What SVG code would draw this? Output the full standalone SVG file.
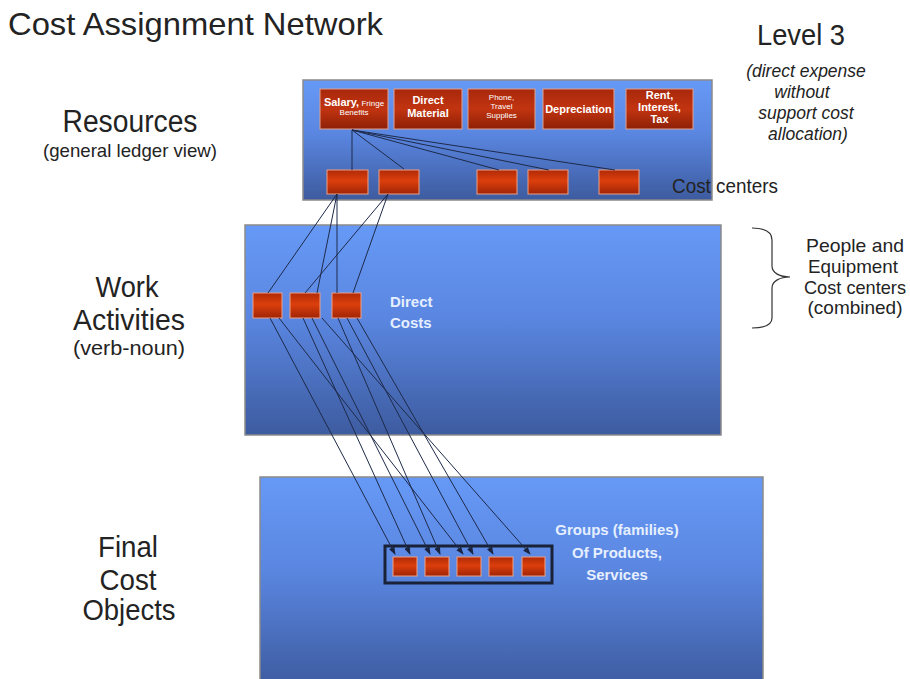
<svg xmlns="http://www.w3.org/2000/svg" width="910" height="679" viewBox="0 0 910 679">
<defs>
  <linearGradient id="panelGrad" x1="0" y1="0" x2="0" y2="1">
    <stop offset="0" stop-color="#6699f6"/>
    <stop offset="0.45" stop-color="#5a86e0"/>
    <stop offset="1" stop-color="#3d5b9f"/>
  </linearGradient>
  <linearGradient id="redGrad" x1="0" y1="0" x2="0" y2="1">
    <stop offset="0" stop-color="#b02a08"/>
    <stop offset="0.45" stop-color="#dc3f0c"/>
    <stop offset="1" stop-color="#a02406"/>
  </linearGradient>
  <linearGradient id="labelGrad" x1="0" y1="0" x2="0" y2="1">
    <stop offset="0" stop-color="#a8280c"/>
    <stop offset="0.5" stop-color="#c23410"/>
    <stop offset="1" stop-color="#8e2006"/>
  </linearGradient>
  <marker id="arrow" markerWidth="8" markerHeight="6" refX="7" refY="3" orient="auto" markerUnits="userSpaceOnUse">
    <path d="M0,0 L8,3 L0,6 Z" fill="#1b2540"/>
  </marker>
</defs>
<style>
  .panel { fill: url(#panelGrad); stroke: #8a8a8a; stroke-width: 1.5; }
  .box { fill: url(#redGrad); stroke: #eea084; stroke-width: 1; }
  .lbox { fill: url(#labelGrad); stroke: #e2a08c; stroke-width: 1; }
  .lt { font-family: "Liberation Sans", Arial, sans-serif; fill: #ffffff; text-anchor: middle; }
  .b { font-weight: bold; font-size: 11px; }
  .s { font-size: 8px; }
  .dark { font-family: "Liberation Sans", Arial, sans-serif; fill: #232323; }
  .mid { text-anchor: middle; }
  .inner { font-family: "Liberation Sans", Arial, sans-serif; font-weight: bold; font-size: 15px; fill: #e6efff; }
  .conn { stroke: #1e2a4a; stroke-width: 1; fill: none; }
  .carr { stroke: #1e2a4a; stroke-width: 1; fill: none; marker-end: url(#arrow); }
</style>

<rect width="910" height="679" fill="#ffffff"/>

<g id="labels">
  <text class="dark" x="8" y="35" font-size="32" textLength="375" lengthAdjust="spacingAndGlyphs">Cost Assignment Network</text>
  <text class="dark mid" x="130" y="132" font-size="31" textLength="135" lengthAdjust="spacingAndGlyphs">Resources</text>
  <text class="dark mid" x="130" y="157" font-size="19" textLength="174" lengthAdjust="spacingAndGlyphs">(general ledger view)</text>
  <text class="dark mid" x="127" y="297" font-size="30" textLength="63" lengthAdjust="spacingAndGlyphs">Work</text>
  <text class="dark mid" x="129" y="330" font-size="30" textLength="112" lengthAdjust="spacingAndGlyphs">Activities</text>
  <text class="dark mid" x="129" y="355" font-size="21" textLength="112" lengthAdjust="spacingAndGlyphs">(verb-noun)</text>
  <text class="dark mid" x="128" y="557" font-size="30" textLength="60" lengthAdjust="spacingAndGlyphs">Final</text>
  <text class="dark mid" x="128" y="590" font-size="30" textLength="57" lengthAdjust="spacingAndGlyphs">Cost</text>
  <text class="dark mid" x="129" y="620" font-size="30" textLength="93" lengthAdjust="spacingAndGlyphs">Objects</text>
  <text class="dark mid" x="801" y="45" font-size="29" textLength="88" lengthAdjust="spacingAndGlyphs">Level 3</text>
  <g font-style="italic" font-size="17.5">
    <text class="dark mid" x="806" y="77">(direct expense</text>
    <text class="dark mid" x="802" y="98">without</text>
    <text class="dark mid" x="806" y="119">support cost</text>
    <text class="dark mid" x="808" y="140">allocation)</text>
  </g>
  <path d="M752,228 C764,228 772,231 772,240 L772,266 C772,273 780,277 790,277 C780,277 772,281 772,288 L772,318 C772,325 764,328 752,328" fill="none" stroke="#333" stroke-width="1.2"/>
  <text class="dark mid" x="855" y="252" font-size="19" textLength="98" lengthAdjust="spacingAndGlyphs">People and</text>
  <text class="dark mid" x="853" y="273" font-size="19" textLength="90" lengthAdjust="spacingAndGlyphs">Equipment</text>
  <text class="dark mid" x="855" y="294" font-size="19" textLength="102" lengthAdjust="spacingAndGlyphs">Cost centers</text>
  <text class="dark mid" x="855" y="314" font-size="19" textLength="95" lengthAdjust="spacingAndGlyphs">(combined)</text>
</g>

<g id="resources-panel">
  <rect class="panel" x="303" y="80" width="409" height="120"/>
  <text class="dark" x="672" y="193" font-size="21" textLength="106" lengthAdjust="spacingAndGlyphs">Cost centers</text>
</g>
<g id="res-salary">
  <rect class="lbox" x="320" y="89" width="68" height="40"/>
  <text class="lt" x="354" y="106"><tspan class="b" font-size="10">Salary,</tspan><tspan class="s"> Fringe</tspan></text>
  <text class="lt s" x="354" y="115">Benefits</text>
</g>
<g id="res-material">
  <rect class="lbox" x="394" y="89" width="68" height="40"/>
  <text class="lt b" x="428" y="104">Direct</text>
  <text class="lt b" x="428" y="117">Material</text>
</g>
<g id="res-phone">
  <rect class="lbox" x="468" y="89" width="67" height="40"/>
  <text class="lt s" x="501.5" y="100">Phone,</text>
  <text class="lt s" x="501.5" y="109">Travel</text>
  <text class="lt s" x="501.5" y="118">Supplies</text>
</g>
<g id="res-depreciation">
  <rect class="lbox" x="543" y="89" width="71" height="40"/>
  <text class="lt b" x="578.5" y="113">Depreciation</text>
</g>
<g id="res-rent">
  <rect class="lbox" x="626" y="89" width="67" height="40"/>
  <text class="lt b" x="659.5" y="99">Rent,</text>
  <text class="lt b" x="659.5" y="111">Interest,</text>
  <text class="lt b" x="659.5" y="123">Tax</text>
</g>
<g id="cost-centers">
  <rect id="cc1" class="box" x="327" y="170" width="41" height="24"/>
  <rect id="cc2" class="box" x="379" y="170" width="40" height="24"/>
  <rect id="cc3" class="box" x="477" y="170" width="40" height="24"/>
  <rect id="cc4" class="box" x="528" y="170" width="40" height="24"/>
  <rect id="cc5" class="box" x="599" y="170" width="40" height="24"/>
</g>

<g id="work-panel">
  <rect class="panel" x="245" y="225" width="476" height="210"/>
  <text class="inner" x="390" y="307">Direct</text>
  <text class="inner" x="390" y="328">Costs</text>
</g>
<g id="activities">
  <rect id="actA" class="box" x="253" y="293" width="29" height="25"/>
  <rect id="actB" class="box" x="290" y="293" width="30" height="25"/>
  <rect id="actC" class="box" x="332" y="293" width="29" height="25"/>
</g>

<g id="final-panel">
  <rect class="panel" x="260" y="477" width="503" height="210"/>
  <text class="inner mid" x="617" y="535" text-anchor="middle" font-size="14.5">Groups (families)</text>
  <text class="inner mid" x="617" y="558" text-anchor="middle" font-size="14.5">Of Products,</text>
  <text class="inner mid" x="617" y="580" text-anchor="middle" font-size="14.5">Services</text>
</g>
<g id="products">
  <rect x="385" y="546" width="167" height="37" fill="none" stroke="#1a2238" stroke-width="3"/>
  <rect id="p1" class="box" x="393" y="557" width="24" height="19"/>
  <rect id="p2" class="box" x="425" y="557" width="24" height="19"/>
  <rect id="p3" class="box" x="457" y="557" width="24" height="19"/>
  <rect id="p4" class="box" x="489" y="557" width="24" height="19"/>
  <rect id="p5" class="box" x="522" y="557" width="23" height="19"/>
</g>

<g id="connectors">
  <line class="conn" x1="352" y1="130" x2="352" y2="170"/>
  <line class="conn" x1="352" y1="130" x2="404" y2="169"/>
  <line class="conn" x1="352" y1="130" x2="499" y2="170"/>
  <line class="conn" x1="352" y1="130" x2="549" y2="170"/>
  <line class="conn" x1="352" y1="130" x2="615" y2="170"/>

  <line class="conn" x1="337" y1="194" x2="268" y2="293"/>
  <line class="conn" x1="337" y1="194" x2="317" y2="293"/>
  <line class="conn" x1="337" y1="194" x2="337" y2="293"/>
  <line class="conn" x1="388" y1="194" x2="305" y2="293"/>
  <line class="conn" x1="388" y1="194" x2="353" y2="293"/>

  <line class="carr" x1="270" y1="318" x2="395" y2="554"/>
  <line class="carr" x1="279" y1="318" x2="463" y2="554"/>
  <line class="carr" x1="303" y1="318" x2="410" y2="554"/>
  <line class="carr" x1="312" y1="318" x2="430" y2="554"/>
  <line class="carr" x1="322" y1="318" x2="530" y2="554"/>
  <line class="carr" x1="338" y1="318" x2="440" y2="554"/>
  <line class="carr" x1="347" y1="318" x2="473" y2="554"/>
  <line class="carr" x1="357" y1="318" x2="493" y2="554"/>
</g>
</svg>
